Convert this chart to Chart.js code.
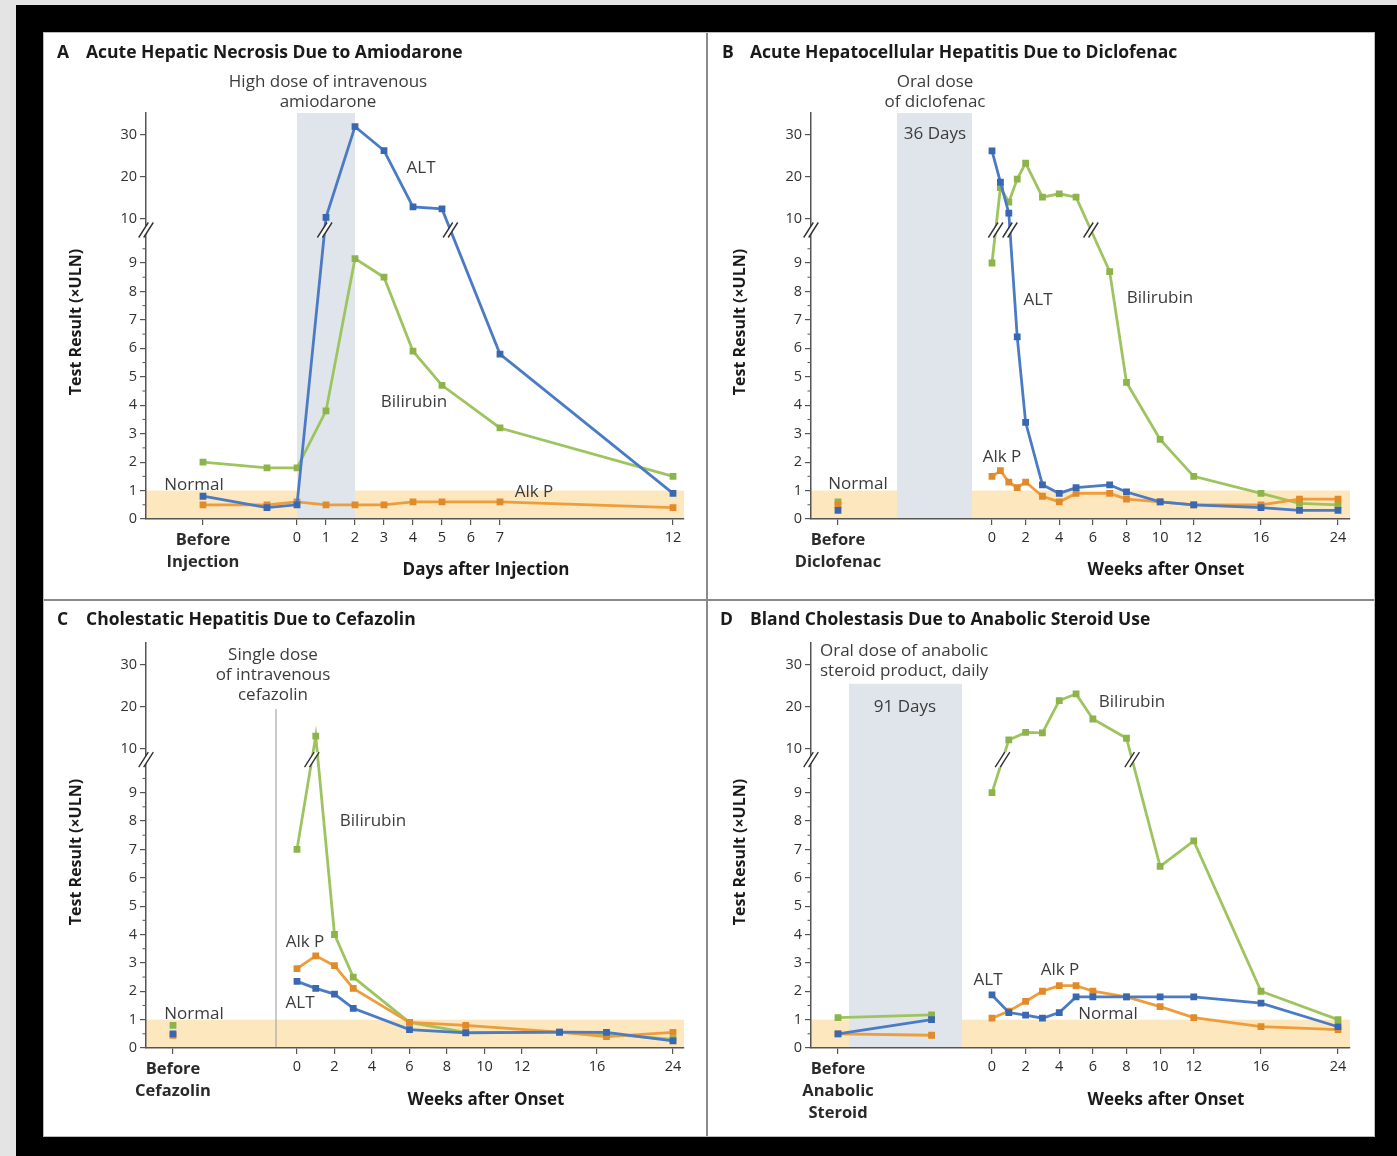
<!DOCTYPE html>
<html><head><meta charset="utf-8">
<script src="https://cdn.jsdelivr.net/npm/chart.js@4.4.1/dist/chart.umd.min.js"></script>
<style>
html,body{margin:0;padding:0;width:1397px;height:1156px;overflow:hidden;background:#e4e4e4}
#frame{position:absolute;left:16px;top:5px;width:1381px;height:1151px;background:#000}
#sheet{position:absolute;left:44px;top:33px;width:1330px;height:1103px;background:#fff;box-shadow:0 0 0 1px #bbb}
.div{position:absolute;background:#8a8a8a}
canvas{position:absolute}
</style></head>
<body>
<div id="frame"></div>
<div id="sheet"></div>
<canvas id="cA" width="663" height="567" style="left:44px;top:33px"></canvas>
<canvas id="cB" width="666" height="567" style="left:708px;top:33px"></canvas>
<canvas id="cC" width="663" height="535" style="left:44px;top:601px"></canvas>
<canvas id="cD" width="666" height="535" style="left:708px;top:601px"></canvas>
<div class="div" style="left:706px;top:33px;width:2px;height:1103px"></div>
<div class="div" style="left:44px;top:599px;width:1330px;height:2px"></div>
<script>
// ---------- DATA ----------
// Panel A: days after injection (-3 = "Before Injection")
const A_days  = [-3, -1, 0, 1, 2, 3, 4, 5, 7, 12];
const A_ALT   = [0.8, 0.4, 0.5, 10.4, 32, 26.3, 12.9, 12.4, 5.8, 0.9];
const A_Bili  = [2.0, 1.8, 1.8, 3.8, 9.1, 8.5, 5.9, 4.7, 3.2, 1.5];
const A_AlkP  = [0.5, 0.5, 0.6, 0.5, 0.5, 0.5, 0.6, 0.6, 0.6, 0.4];
const A_xTicks = [-3, 0, 1, 2, 3, 4, 5, 6, 7, 12];
const A_xLabels = [["Before","Injection"], "0","1","2","3","4","5","6","7","12"];

// Panel B: weeks after onset (-10 = "Before Diclofenac")
const B_weeks = [-10, 0, 0.5, 1, 1.5, 2, 3, 4, 5, 7, 8, 10, 12, 16, 20, 24];
const B_ALT   = [0.3, 26.2, 18.8, 11.4, 6.4, 3.4, 1.2, 0.9, 1.1, 1.2, 0.95, 0.6, 0.5, 0.4, 0.3, 0.3];
const B_Bili  = [0.6, 9.0, 17.5, 14.0, 19.5, 23.3, 15.2, 16.0, 15.2, 8.7, 4.8, 2.8, 1.5, 0.9, 0.55, 0.5];
const B_AlkP  = [0.5, 1.5, 1.7, 1.3, 1.1, 1.3, 0.8, 0.6, 0.9, 0.9, 0.7, 0.6, 0.5, 0.5, 0.7, 0.7];
const B_xTicks = [-10, 0, 2, 4, 6, 8, 10, 12, 16, 24];
const B_xLabels = [["Before","Diclofenac"], "0","2","4","6","8","10","12","16","24"];

// Panel C: weeks after onset (-8 = "Before Cefazolin")
const C_weeks = [-8, 0, 1, 2, 3, 6, 9, 14, 17, 24];
const C_ALT   = [0.5, 2.35, 2.1, 1.9, 1.4, 0.65, 0.53, 0.56, 0.55, 0.25];
const C_Bili  = [0.8, 7.0, 13.0, 4.0, 2.5, 0.9, 0.55, 0.55, 0.5, 0.3];
const C_AlkP  = [0.45, 2.8, 3.25, 2.9, 2.1, 0.9, 0.8, 0.56, 0.4, 0.55];
const C_xTicks = [-8, 0, 2, 4, 6, 8, 10, 12, 16, 24];
const C_xLabels = [["Before","Cefazolin"], "0","2","4","6","8","10","12","16","24"];

// Panel D: weeks after onset (-16 = "Before Anabolic Steroid")
const D_weeks = [-16, -4.5, 0, 1, 2, 3, 4, 5, 6, 8, 10, 12, 16, 24];
const D_ALT   = [0.5, 1.0, 1.87, 1.25, 1.16, 1.05, 1.25, 1.8, 1.8, 1.8, 1.8, 1.8, 1.58, 0.75];
const D_Bili  = [1.07, 1.17, 9.0, 12.1, 13.9, 13.8, 21.5, 23.1, 17.1, 12.5, 6.4, 7.3, 2.0, 1.0];
const D_AlkP  = [0.5, 0.45, 1.05, 1.3, 1.64, 2.0, 2.2, 2.2, 2.0, 1.8, 1.46, 1.07, 0.75, 0.65];
const D_xTicks = [-16, 0, 2, 4, 6, 8, 10, 12, 16, 24];
const D_xLabels = [["Before","Anabolic","Steroid"], "0","2","4","6","8","10","12","16","24"];

// Shared y axis (broken between 9 and 10)
const Y_TICKS = [0, 1, 2, 3, 4, 5, 6, 7, 8, 9, 10, 20, 30];
const Y_BREAK = 9.75;
const NORMAL_ULN = 1;

// ---------- SCALE / STYLE CONFIG ----------
const Y_KNOTS = [[0,0],[9,256],[10,300],[30,384],[40,426]];
const COLORS = {
  ALT:  {line:'#4b7bc4', pt:'#3a67b2'},
  Bili: {line:'#9ec45f', pt:'#8cb44b'},
  AlkP: {line:'#ee9d3c', pt:'#e2892a'}
};
const FONT = '"Open Sans", Lato, sans-serif';
const TITLE_F = 'bold 17.5px ' + FONT;
const AXT_F = 'bold 17px ' + FONT;
const YT_F = 'bold 16px ' + FONT;
const ANN_F = '17px ' + FONT;
const DARK = '#1a1a1a';

function mapKnots(k, v){
  let i = k.length - 2;
  if (v <= k[0][0]) i = 0;
  else for (let j = 0; j < k.length - 1; j++){ if (v <= k[j+1][0]) { i = j; break; } }
  const a = k[i], b = k[i+1];
  return a[1] + (v - a[0]) * (b[1] - a[1]) / (b[0] - a[0]);
}
function makeScale(id, knots, unitMax, tickValues){
  class S extends Chart.LinearScale {
    parse(raw, i){ const v = super.parse(raw, i); return (v === null || v === undefined || Number.isNaN(v)) ? v : mapKnots(knots, v); }
    determineDataLimits(){ this.min = 0; this.max = unitMax; }
    buildTicks(){ return tickValues.map(v => ({value: mapKnots(knots, v)})); }
    px(v){ return this.getPixelForValue(mapKnots(knots, v)); }
  }
  S.id = id; S.defaults = {};
  Chart.register(S);
}

function drawBreak(ctx, x, y){
  ctx.save(); ctx.translate(x, y);
  const h = 7.5, w = 4.8, g = 2.5;
  ctx.beginPath();
  ctx.moveTo(-g-w, h); ctx.lineTo(-g+w, -h); ctx.lineTo(g+w, -h); ctx.lineTo(g-w, h); ctx.closePath();
  ctx.fillStyle = '#fff'; ctx.fill();
  ctx.beginPath();
  ctx.moveTo(-g-w, h); ctx.lineTo(-g+w, -h);
  ctx.moveTo(g-w, h); ctx.lineTo(g+w, -h);
  ctx.strokeStyle = '#333'; ctx.lineWidth = 1.4; ctx.stroke();
  ctx.restore();
}

const P = {
  A: {canvas:'cA', x:A_days, series:{ALT:A_ALT, AlkP:A_AlkP, Bili:A_Bili}, gapAfter:null,
      xTicks:A_xTicks, xLabels:A_xLabels,
      knots:[[-3,57],[-1,121],[0,151],[7,354],[12,527]], unitMax:538,
      pad:{left:102,right:23,top:80,bottom:81},
      shade:[0,2], shadeTop:null, doseLine:null,
      texts:[
        {t:'A', x:13, y:20, f:TITLE_F, c:DARK, a:'left'},
        {t:'Acute Hepatic Necrosis Due to Amiodarone', x:42, y:20, f:TITLE_F, c:DARK, a:'left'},
        {t:'High dose of intravenous', x:284, y:49}, {t:'amiodarone', x:284, y:69},
        {t:'ALT', x:377, y:135}, {t:'Bilirubin', x:370, y:369},
        {t:'Normal', x:150, y:452}, {t:'Alk P', x:490, y:459},
        {t:'Days after Injection', x:442, y:537, f:AXT_F, c:DARK},
        {t:'Test Result (\u00d7ULN)', x:32, y:289, f:YT_F, c:DARK, r:-Math.PI/2}
      ]},
  B: {canvas:'cB', x:B_weeks, series:{ALT:B_ALT, AlkP:B_AlkP, Bili:B_Bili}, gapAfter:0,
      xTicks:B_xTicks, xLabels:B_xLabels,
      knots:[[-10,27],[-6.14,86],[-1,161],[0,181],[16,450],[24,527]], unitMax:539,
      pad:{left:103,right:24,top:80,bottom:81},
      shade:[-6.14,-1], shadeTop:null, doseLine:null,
      texts:[
        {t:'B', x:14, y:20, f:TITLE_F, c:DARK, a:'left'},
        {t:'Acute Hepatocellular Hepatitis Due to Diclofenac', x:42, y:20, f:TITLE_F, c:DARK, a:'left'},
        {t:'Oral dose', x:227, y:49}, {t:'of diclofenac', x:227, y:69},
        {t:'36 Days', x:227, y:101},
        {t:'ALT', x:330, y:267}, {t:'Bilirubin', x:452, y:265},
        {t:'Alk P', x:294, y:424}, {t:'Normal', x:150, y:451},
        {t:'Weeks after Onset', x:458, y:537, f:AXT_F, c:DARK},
        {t:'Test Result (\u00d7ULN)', x:32, y:289, f:YT_F, c:DARK, r:-Math.PI/2}
      ]},
  C: {canvas:'cC', x:C_weeks, series:{ALT:C_ALT, AlkP:C_AlkP, Bili:C_Bili}, gapAfter:0,
      xTicks:C_xTicks, xLabels:C_xLabels,
      knots:[[-8,27],[-1,130],[0,151],[16,451],[24,527]], unitMax:538,
      pad:{left:102,right:23,top:42,bottom:88},
      shade:null, shadeTop:null, doseLine:{x:-1, top:19.5},
      texts:[
        {t:'C', x:13, y:19, f:TITLE_F, c:DARK, a:'left'},
        {t:'Cholestatic Hepatitis Due to Cefazolin', x:42, y:19, f:TITLE_F, c:DARK, a:'left'},
        {t:'Single dose', x:229, y:54}, {t:'of intravenous', x:229, y:74}, {t:'cefazolin', x:229, y:94},
        {t:'Bilirubin', x:329, y:220}, {t:'Alk P', x:261, y:341},
        {t:'ALT', x:256, y:402}, {t:'Normal', x:150, y:413},
        {t:'Weeks after Onset', x:442, y:499, f:AXT_F, c:DARK},
        {t:'Test Result (\u00d7ULN)', x:32, y:251, f:YT_F, c:DARK, r:-Math.PI/2}
      ]},
  D: {canvas:'cD', x:D_weeks, series:{ALT:D_ALT, AlkP:D_AlkP, Bili:D_Bili}, gapAfter:1,
      xTicks:D_xTicks, xLabels:D_xLabels,
      knots:[[-16,27],[-14,38],[-1,151],[0,181],[16,450],[24,527]], unitMax:539,
      pad:{left:103,right:24,top:42,bottom:88},
      shade:[-14,-1], shadeTop:25.5, doseLine:null,
      texts:[
        {t:'D', x:12, y:19, f:TITLE_F, c:DARK, a:'left'},
        {t:'Bland Cholestasis Due to Anabolic Steroid Use', x:42, y:19, f:TITLE_F, c:DARK, a:'left'},
        {t:'Oral dose of anabolic', x:112, y:50, a:'left'}, {t:'steroid product, daily', x:112, y:70, a:'left'},
        {t:'91 Days', x:197, y:106},
        {t:'Bilirubin', x:424, y:101}, {t:'ALT', x:280, y:379},
        {t:'Alk P', x:352, y:369}, {t:'Normal', x:400, y:413},
        {t:'Weeks after Onset', x:458, y:499, f:AXT_F, c:DARK},
        {t:'Test Result (\u00d7ULN)', x:32, y:251, f:YT_F, c:DARK, r:-Math.PI/2}
      ]}
};

Chart.defaults.font.family = FONT;

function build(key){
  const p = P[key];
  const xId = 'pw' + key + 'x', yId = 'pw' + key + 'y';
  makeScale(xId, p.knots, p.unitMax, p.xTicks);
  makeScale(yId, Y_KNOTS, 406, Y_TICKS);
  const names = ['ALT', 'AlkP', 'Bili'];
  const datasets = names.map(n => ({
    label: n,
    data: p.x.map((x, i) => ({x: x, y: p.series[n][i]})),
    borderColor: COLORS[n].line,
    backgroundColor: COLORS[n].pt,
    pointBackgroundColor: COLORS[n].pt,
    pointBorderColor: COLORS[n].pt,
    pointStyle: 'rect', pointRadius: 4.8, pointBorderWidth: 0,
    borderWidth: 2.8, tension: 0, fill: false,
    segment: { borderColor: c => (p.gapAfter !== null && c.p0DataIndex === p.gapAfter) ? 'rgba(0,0,0,0)' : undefined }
  }));
  const deco = {
    id: 'deco' + key,
    beforeDraw(chart){
      const ctx = chart.ctx, ca = chart.chartArea;
      const xs = chart.scales.x, ys = chart.scales.y;
      ctx.save();
      ctx.fillStyle = '#fce7bf';
      const yN = ys.px(NORMAL_ULN);
      ctx.fillRect(ca.left, yN, ca.right - ca.left, ca.bottom - yN);
      if (p.shade){
        const x0 = xs.px(p.shade[0]), x1 = xs.px(p.shade[1]);
        const yt = p.shadeTop === null ? ca.top : ys.px(p.shadeTop);
        ctx.fillStyle = '#dfe5ea';
        ctx.fillRect(x0, yt, x1 - x0, ca.bottom - yt);
      }
      if (p.doseLine){
        const xd = xs.px(p.doseLine.x);
        ctx.strokeStyle = '#a8a8a8'; ctx.lineWidth = 1.2;
        ctx.beginPath(); ctx.moveTo(xd, ys.px(p.doseLine.top)); ctx.lineTo(xd, ca.bottom); ctx.stroke();
      }
      ctx.restore();
    },
    afterDatasetsDraw(chart){
      const ctx = chart.ctx, ca = chart.chartArea, ys = chart.scales.y;
      const yb = ys.px(Y_BREAK);
      ctx.save();
      ctx.strokeStyle = '#555'; ctx.lineWidth = 1;
      ctx.beginPath();
      for (let v = 0.5; v < 9; v += 1){ const y = ys.px(v); ctx.moveTo(ca.left - 3.5, y); ctx.lineTo(ca.left, y); }
      const y95 = ys.px(9) - (ys.px(8) - ys.px(9)) / 2;
      ctx.moveTo(ca.left - 3.5, y95); ctx.lineTo(ca.left, y95);
      ctx.stroke();
      ctx.restore();
      drawBreak(ctx, ca.left, yb);
      const marks = [];
      chart.data.datasets.forEach((ds, di) => {
        const meta = chart.getDatasetMeta(di);
        for (let i = 0; i < ds.data.length - 1; i++){
          if (p.gapAfter !== null && i === p.gapAfter) continue;
          const v0 = ds.data[i].y, v1 = ds.data[i+1].y;
          if ((v0 < Y_BREAK) !== (v1 < Y_BREAK)){
            const a = meta.data[i], b = meta.data[i+1];
            const t = (yb - a.y) / (b.y - a.y);
            const mx = a.x + t * (b.x - a.x);
            if (!marks.some(m => Math.abs(m - mx) < 7)) { marks.push(mx); drawBreak(ctx, mx, yb); }
          }
        }
      });
    },
    afterDraw(chart){
      const ctx = chart.ctx;
      p.texts.forEach(o => {
        ctx.save();
        ctx.font = o.f || ANN_F;
        ctx.fillStyle = o.c || '#3c3c3c';
        ctx.textAlign = o.a || 'center';
        ctx.textBaseline = 'middle';
        ctx.translate(o.x, o.y);
        if (o.r) ctx.rotate(o.r);
        ctx.fillText(o.t, 0, 0);
        ctx.restore();
      });
    }
  };
  new Chart(document.getElementById(p.canvas), {
    type: 'line',
    data: { datasets },
    plugins: [deco],
    options: {
      responsive: false, animation: false, events: [],
      layout: { padding: { left: 0, right: p.pad.right, top: p.pad.top, bottom: 0 } },
      plugins: { legend: {display:false}, tooltip: {enabled:false}, title:{display:false} },
      scales: {
        x: {
          type: xId, position: 'bottom',
          afterFit: s => { s.height = p.pad.bottom; },
          border: { display: true, color: '#555', width: 1.5 },
          grid: { display: true, drawOnChartArea: false, drawTicks: true, tickLength: 6, color: '#555', lineWidth: 1.2 },
          ticks: {
            autoSkip: false, maxRotation: 0, minRotation: 0, padding: 4, color: '#2a2a2a',
            callback: (v, i) => p.xLabels[i],
            font: c => (c.index === 0 ? {size: 16.5, weight: 'bold', lineHeight: 1.33, family: FONT} : {size: 14.5, family: FONT, lineHeight: 1.2})
          }
        },
        y: {
          type: yId, position: 'left',
          afterFit: s => { s.width = p.pad.left; },
          border: { display: true, color: '#555', width: 1.5 },
          grid: { display: true, drawOnChartArea: false, drawTicks: true, tickLength: 6, color: '#555', lineWidth: 1.2 },
          ticks: { autoSkip: false, padding: 3, color: '#333', font: {size: 14.5, family: FONT},
                   callback: (v, i) => String(Y_TICKS[i]) }
        }
      }
    }
  });
}
['A','B','C','D'].forEach(build);
</script>
</body></html>
